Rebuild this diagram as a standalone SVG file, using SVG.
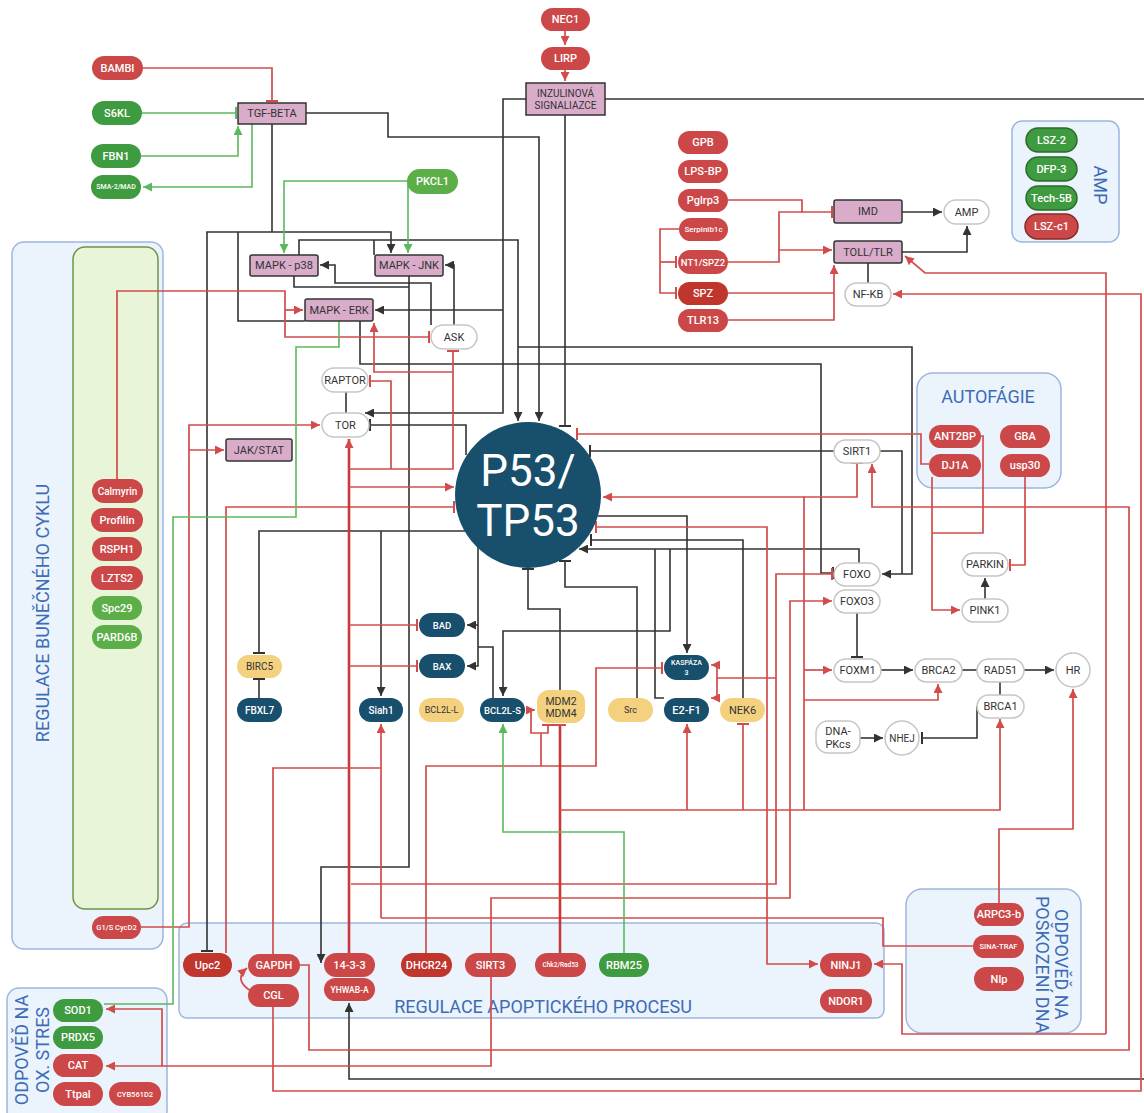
<svg xmlns="http://www.w3.org/2000/svg" width="1144" height="1113" viewBox="0 0 1144 1113">
<style>
.n text{font-family:Roboto,"Liberation Sans",sans-serif;font-size:11px;font-weight:500;fill:#fff;text-anchor:middle;dominant-baseline:central}
.r rect{fill:#cc4848}
.rd rect{fill:#c0352c}
.g rect{fill:#3f9b3f}
.gl rect{fill:#5cae48}
.b rect{fill:#174f6d}
.y rect{fill:#f3d17f}
.y text{fill:#333;font-weight:400}
.p rect{fill:#d9adca;stroke:#333;stroke-width:1.5}
.p text{fill:#333;font-weight:400}
.w rect,.w circle{fill:#fff;stroke:#c6c6c6;stroke-width:1.5}
.w text{fill:#333;font-weight:400}
.box{fill:#ebf3fc;stroke:#9db6de;stroke-width:1.5}
.lbl{font-family:Roboto,"Liberation Sans",sans-serif;font-size:18px;fill:#3d6cb6;text-anchor:middle;dominant-baseline:central}
.k{stroke:#333;stroke-width:1.6;fill:none}
.rl{stroke:#d24c4c;stroke-width:1.7;fill:none}
.rt{stroke:#c9383a;stroke-width:2.6;fill:none}
.gn{stroke:#5cb85c;stroke-width:1.6;fill:none}
</style>
<defs>
<marker id="ak" viewBox="0 0 10 10" refX="10" refY="5" markerWidth="9" markerHeight="9" markerUnits="userSpaceOnUse" orient="auto"><path d="M0,0L10,5L0,10z" fill="#333"/></marker>
<marker id="ar" viewBox="0 0 10 10" refX="10" refY="5" markerWidth="9" markerHeight="9" markerUnits="userSpaceOnUse" orient="auto"><path d="M0,0L10,5L0,10z" fill="#d24c4c"/></marker>
<marker id="ag" viewBox="0 0 10 10" refX="10" refY="5" markerWidth="9" markerHeight="9" markerUnits="userSpaceOnUse" orient="auto"><path d="M0,0L10,5L0,10z" fill="#5cb85c"/></marker>
<marker id="bk" viewBox="0 0 4 12" refX="2" refY="6" markerWidth="4" markerHeight="12" markerUnits="userSpaceOnUse" orient="auto"><path d="M2,0V12" stroke="#333" stroke-width="2"/></marker>
<marker id="br" viewBox="0 0 4 12" refX="2" refY="6" markerWidth="4" markerHeight="12" markerUnits="userSpaceOnUse" orient="auto"><path d="M2,0V12" stroke="#d24c4c" stroke-width="2"/></marker>
<marker id="bg" viewBox="0 0 4 12" refX="2" refY="6" markerWidth="4" markerHeight="12" markerUnits="userSpaceOnUse" orient="auto"><path d="M2,0V12" stroke="#5cb85c" stroke-width="2"/></marker>
</defs>
<rect width="1144" height="1113" fill="#fff"/>

<g id="groups">
<rect class="box" x="12" y="242" width="151" height="707" rx="12"/>
<rect x="73" y="247" width="85" height="662" rx="12" fill="#e9f5d8" stroke="#6f9444" stroke-width="1.5"/>
<text class="lbl" transform="translate(42,613) rotate(-90)">REGULACE BUNĚČNÉHO CYKLU</text>
<rect class="box" x="179" y="923" width="705" height="95" rx="8"/>
<text class="lbl" x="543" y="1006">REGULACE APOPTICKÉHO PROCESU</text>
<rect class="box" x="906" y="889" width="175" height="144" rx="16" stroke="#7e9ed3" stroke-width="3"/>
<text class="lbl" style="text-anchor:start" transform="translate(1061,909) rotate(90)">ODPOVĚĎ NA</text>
<text class="lbl" style="text-anchor:start" transform="translate(1042,896) rotate(90)">POŠKOZENÍ DNA</text>
<rect class="box" x="7" y="988" width="160" height="135" rx="12"/>
<text class="lbl" transform="translate(21,1050) rotate(-90)">ODPOVĚĎ NA</text>
<text class="lbl" transform="translate(42,1050) rotate(-90)">OX. STRES</text>
<rect class="box" x="1012" y="121" width="107" height="121" rx="10"/>
<text class="lbl" transform="translate(1100,185) rotate(90)">AMP</text>
<rect class="box" x="917" y="373" width="144" height="115" rx="16"/>
<text class="lbl" x="988" y="396">AUTOFÁGIE</text>
</g>

<g id="connectors">
<!-- black -->
<path class="k" d="M272,124V232"/>
<path class="k" d="M207,951V232H391V253" marker-start="url(#bk)" marker-end="url(#ak)"/>
<path class="k" d="M238,232V321H305"/>
<path class="k" d="M299,255V240H518V421" marker-end="url(#ak)"/>
<path class="k" d="M374,240V255"/>
<path class="k" d="M306,113H388V137H539V421" marker-end="url(#ak)"/>
<path class="k" d="M526,99H503V413H365" marker-end="url(#ak)"/>
<path class="k" d="M503,310H375" marker-end="url(#ak)"/>
<path class="k" d="M565,115V426" marker-end="url(#bk)"/>
<path class="k" d="M605,99H1144"/>
<path class="k" d="M431,325V283H335V265H320" marker-end="url(#ak)"/>
<path class="k" d="M454,325V265H445" marker-end="url(#ak)"/>
<path class="k" d="M294,276V287H409"/>
<path class="k" d="M409,276V867H321V963" marker-end="url(#ak)"/>
<path class="k" d="M360,321V364H821V573H833" marker-end="url(#bk)"/>
<path class="k" d="M518,347H912V574H882" marker-end="url(#ak)"/>
<path class="k" d="M880,451H902V574"/>
<path class="k" d="M370,425H466V455" marker-start="url(#bk)"/>
<path class="k" d="M346,392V413"/>
<path class="k" d="M465,531H259V653" marker-end="url(#bk)"/>
<path class="k" d="M381,531V696" marker-end="url(#ak)"/>
<path class="k" d="M259,679V698" marker-start="url(#bk)"/>
<path class="k" d="M478,547V666H467" marker-end="url(#ak)"/>
<path class="k" d="M478,625H467" marker-end="url(#ak)"/>
<path class="k" d="M478,647H493V698"/>
<path class="k" d="M528,569V609H560V690" marker-start="url(#bk)"/>
<path class="k" d="M565,561V587H637V698" marker-start="url(#bk)"/>
<path class="k" d="M859,563V549H579" marker-end="url(#ak)"/>
<path class="k" d="M655,549V698H664"/>
<path class="k" d="M670,549V631H503V696" marker-end="url(#ak)"/>
<path class="k" d="M743,698V540H591" marker-end="url(#bk)"/>
<path class="k" d="M598,516H687V653" marker-end="url(#ak)"/>
<path class="k" d="M834,451H590" marker-end="url(#bk)"/>
<path class="k" d="M857,612V657" marker-end="url(#bk)"/>
<path class="k" d="M881,670H913" marker-end="url(#ak)"/>
<path class="k" d="M962,670H977"/>
<path class="k" d="M1024,670H1054" marker-end="url(#ak)"/>
<path class="k" d="M1000,682V695"/>
<path class="k" d="M860,738H883" marker-end="url(#ak)"/>
<path class="k" d="M977,706V738H922" marker-end="url(#bk)"/>
<path class="k" d="M985,599V578" marker-end="url(#ak)"/>
<path class="k" d="M902,212H942" marker-end="url(#ak)"/>
<path class="k" d="M902,252H967V226" marker-end="url(#ak)"/>
<path class="k" d="M868,263V283"/>
<path class="k" d="M1144,1079H349V1003" marker-end="url(#ak)"/>
<!-- red -->
<path class="rl" d="M565,31V45" marker-end="url(#ar)"/>
<path class="rl" d="M565,70V81" marker-end="url(#ar)"/>
<path class="rl" d="M143,68H272V101" marker-end="url(#br)"/>
<path class="rl" d="M117,479V291H285V337H429" marker-end="url(#br)"/>
<path class="rl" d="M285,310H303" marker-end="url(#ar)"/>
<path class="rl" d="M141,927H189V425H320" marker-end="url(#ar)"/>
<path class="rl" d="M189,450H224" marker-end="url(#ar)"/>
<path class="rl" d="M226,953V507H454" marker-end="url(#br)"/>
<path class="rt" d="M349,953V439" marker-end="url(#ar)"/>
<path class="rl" d="M349,469H453V351" marker-end="url(#br)"/>
<path class="rl" d="M391,469V381H370" marker-end="url(#br)"/>
<path class="rl" d="M453,372H374V323" marker-end="url(#ar)"/>
<path class="rl" d="M349,487H454" marker-end="url(#ar)"/>
<path class="rl" d="M349,625H417" marker-end="url(#br)"/>
<path class="rl" d="M349,666H417" marker-end="url(#br)"/>
<path class="rl" d="M273,954V768H381"/>
<path class="rl" d="M381,918V724" marker-end="url(#ar)"/>
<path class="rl" d="M973,946H883V918H381"/>
<path class="rl" d="M300,965H309V1050H1129V507H872V464" marker-end="url(#ar)"/>
<path class="rl" d="M273,1007V1091H1141V294H893" marker-end="url(#ar)"/>
<path class="rl" d="M251,991Q233,980 247,968" marker-end="url(#ar)"/>
<path class="rl" d="M351,884H776V574H832" marker-end="url(#br)"/>
<path class="rl" d="M776,678H717V665H711" marker-end="url(#ar)"/>
<path class="rl" d="M717,678V698H711" marker-end="url(#ar)"/>
<path class="rl" d="M426,953V766H596V668H662" marker-end="url(#br)"/>
<path class="rl" d="M541,766V733"/>
<path class="rl" d="M548,725V733H531V710H535" marker-start="url(#br)" marker-end="url(#ar)"/>
<path class="rt" d="M560,953V725" marker-end="url(#br)"/>
<path class="rl" d="M560,810H1000V719" marker-end="url(#ar)"/>
<path class="rl" d="M687,810V724" marker-end="url(#ar)"/>
<path class="rl" d="M743,810V724" marker-end="url(#br)"/>
<path class="rl" d="M804,810V497H603" marker-end="url(#ar)"/>
<path class="rl" d="M804,670H832" marker-end="url(#ar)"/>
<path class="rl" d="M804,700H938V684" marker-end="url(#ar)"/>
<path class="rl" d="M857,463V497H804" marker-start="url(#br)"/>
<path class="rl" d="M491,953V898H790V601H832" marker-end="url(#ar)"/>
<path class="rl" d="M491,977V1066H162V1009H106" marker-end="url(#ar)"/>
<path class="rl" d="M162,1066H106" marker-end="url(#ar)"/>
<path class="rl" d="M596,527H767V964H818" marker-start="url(#br)" marker-end="url(#ar)"/>
<path class="rl" d="M929,464H921V434H577" marker-end="url(#br)"/>
<path class="rl" d="M981,436H983V533H932"/>
<path class="rl" d="M932,477V610H960" marker-end="url(#ar)"/>
<path class="rl" d="M1025,477V565H1010" marker-end="url(#br)"/>
<path class="rl" d="M999,903V829H1073V689" marker-end="url(#ar)"/>
<path class="rl" d="M1106,1034H902V964H874" marker-end="url(#ar)"/>
<path class="rl" d="M1106,1034V273H925L905,256" marker-end="url(#ar)"/>
<path class="rl" d="M728,200H802V212H832" marker-end="url(#br)"/>
<path class="rl" d="M728,262H779V212H802"/>
<path class="rl" d="M779,250H832" marker-end="url(#ar)"/>
<path class="rl" d="M680,229H660V293H676" marker-end="url(#br)"/>
<path class="rl" d="M660,262H676" marker-end="url(#br)"/>
<path class="rl" d="M728,293H834"/>
<path class="rl" d="M728,320H834V265" marker-end="url(#ar)"/>
<!-- green -->
<path class="gn" d="M142,113H236" marker-end="url(#bg)"/>
<path class="gn" d="M141,156H238V126" marker-end="url(#ag)"/>
<path class="gn" d="M252,124V187H143" marker-end="url(#ag)"/>
<path class="gn" d="M407,181H284V253" marker-end="url(#ag)"/>
<path class="gn" d="M408,181V253" marker-end="url(#ag)"/>
<path class="gn" d="M339,321V347H296V517H173V1004H104"/>
<path class="gn" d="M624,953V832H503V724" marker-end="url(#ag)"/>
</g>

<g id="nodes">
<g id="bambi" class="n r"><rect x="92" y="56" width="51" height="24" rx="12"/><text x="117.5" y="68">BAMBI</text></g>
<g id="s6kl" class="n g"><rect x="92" y="101" width="50" height="24" rx="12"/><text x="117" y="113">S6KL</text></g>
<g id="fbn1" class="n g"><rect x="91" y="144" width="50" height="24" rx="12"/><text x="116" y="156">FBN1</text></g>
<g id="sma" class="n g"><rect x="91" y="175" width="50" height="24" rx="12"/><text x="116" y="187" style="font-size:7px">SMA-2/MAD</text></g>
<g id="tgf" class="n p"><rect x="238" y="103" width="68" height="21"/><text x="272" y="113.5">TGF-BETA</text></g>
<g id="pkcl1" class="n gl"><rect x="407" y="169" width="51" height="25" rx="12.5"/><text x="432.5" y="181.5">PKCL1</text></g>
<g id="p38" class="n p"><rect x="250" y="255" width="68" height="21" rx="2"/><text x="284" y="265.5">MAPK - p38</text></g>
<g id="jnk" class="n p"><rect x="375" y="255" width="68" height="21" rx="2"/><text x="409" y="265.5">MAPK - JNK</text></g>
<g id="erk" class="n p"><rect x="305" y="299" width="68" height="22" rx="2"/><text x="339" y="310">MAPK - ERK</text></g>
<g id="ask" class="n w"><rect x="431" y="325" width="46" height="24" rx="12"/><text x="454" y="337">ASK</text></g>
<g id="raptor" class="n w"><rect x="322" y="368" width="46" height="24" rx="12"/><text x="345" y="380">RAPTOR</text></g>
<g id="tor" class="n w"><rect x="322" y="413" width="47" height="24" rx="12"/><text x="345.5" y="425">TOR</text></g>
<g id="jakstat" class="n p"><rect x="226" y="439" width="66" height="22" rx="2"/><text x="259" y="450">JAK/STAT</text></g>
<g id="nec1" class="n r"><rect x="541" y="8" width="49" height="23" rx="11.5"/><text x="565.5" y="19.5">NEC1</text></g>
<g id="lirp" class="n r"><rect x="541" y="47" width="49" height="23" rx="11.5"/><text x="565.5" y="58.5">LIRP</text></g>
<g id="inzulin" class="n p"><rect x="526" y="83" width="79" height="32"/><text x="565.5" y="93" style="font-size:10px">INZULINOVÁ</text><text x="565.5" y="105" style="font-size:10px">SIGNALIAZCE</text></g>

<g id="gpb" class="n r"><rect x="678" y="131" width="50" height="23" rx="11.5"/><text x="703" y="142.5">GPB</text></g>
<g id="lpsbp" class="n r"><rect x="678" y="160" width="50" height="23" rx="11.5"/><text x="703" y="171.5">LPS-BP</text></g>
<g id="pglrp3" class="n r"><rect x="678" y="189" width="50" height="23" rx="11.5"/><text x="703" y="200.5">Pglrp3</text></g>
<g id="serpinib1c" class="n r"><rect x="679" y="218" width="49" height="23" rx="11.5"/><text x="703.5" y="229.5" style="font-size:8px">Serpinib1c</text></g>
<g id="nt1spz2" class="n r"><rect x="678" y="250" width="50" height="24" rx="12"/><text x="703" y="262" style="font-size:9.5px">NT1/SPZ2</text></g>
<g id="spz" class="n rd"><rect x="678" y="282" width="50" height="23" rx="11.5"/><text x="703" y="293.5">SPZ</text></g>
<g id="tlr13" class="n r"><rect x="678" y="309" width="50" height="23" rx="11.5"/><text x="703" y="320.5">TLR13</text></g>
<g id="imd" class="n p"><rect x="834" y="200" width="68" height="23" rx="2"/><text x="868" y="211.5">IMD</text></g>
<g id="toll" class="n p"><rect x="834" y="241" width="68" height="22" rx="2"/><text x="868" y="252">TOLL/TLR</text></g>
<g id="amp" class="n w"><rect x="944" y="200" width="45" height="24" rx="12"/><text x="966.5" y="212">AMP</text></g>
<g id="nfkb" class="n w"><rect x="845" y="283" width="46" height="23" rx="11.5"/><text x="868" y="294.5">NF-KB</text></g>

<g id="lsz2" class="n g"><rect x="1026" y="128" width="51" height="24" rx="12" stroke="#2b6b2b" stroke-width="1.5"/><text x="1051.5" y="140">LSZ-2</text></g>
<g id="dfp3" class="n g"><rect x="1026" y="157" width="51" height="24" rx="12" stroke="#2b6b2b" stroke-width="1.5"/><text x="1051.5" y="169">DFP-3</text></g>
<g id="tech5b" class="n g"><rect x="1026" y="186" width="51" height="24" rx="12" stroke="#2b6b2b" stroke-width="1.5"/><text x="1051.5" y="198">Tech-5B</text></g>
<g id="lszc1" class="n r"><rect x="1025" y="214" width="53" height="25" rx="12.5" stroke="#8a2828" stroke-width="1.5"/><text x="1051.5" y="226.5">LSZ-c1</text></g>

<g id="ant2bp" class="n r"><rect x="929" y="425" width="52" height="23" rx="11.5"/><text x="955" y="436.5">ANT2BP</text></g>
<g id="dj1a" class="n r"><rect x="929" y="454" width="52" height="23" rx="11.5"/><text x="955" y="465.5">DJ1A</text></g>
<g id="gba" class="n r"><rect x="1000" y="425" width="50" height="23" rx="11.5"/><text x="1025" y="436.5">GBA</text></g>
<g id="usp30" class="n r"><rect x="1000" y="454" width="50" height="23" rx="11.5"/><text x="1025" y="465.5">usp30</text></g>

<g id="sirt1" class="n w"><rect x="834" y="440" width="46" height="23" rx="11.5"/><text x="857" y="451.5">SIRT1</text></g>
<g id="foxo" class="n w"><rect x="834" y="563" width="46" height="23" rx="11.5"/><text x="857" y="574.5">FOXO</text></g>
<g id="foxo3" class="n w"><rect x="834" y="590" width="46" height="23" rx="11.5"/><text x="857" y="601.5">FOXO3</text></g>
<g id="foxm1" class="n w"><rect x="834" y="659" width="47" height="23" rx="11.5"/><text x="857.5" y="670.5">FOXM1</text></g>
<g id="brca2" class="n w"><rect x="915" y="659" width="47" height="23" rx="11.5"/><text x="938.5" y="670.5">BRCA2</text></g>
<g id="rad51" class="n w"><rect x="977" y="659" width="47" height="23" rx="11.5"/><text x="1000.5" y="670.5">RAD51</text></g>
<g id="hr" class="n w"><circle cx="1073" cy="670" r="17"/><text x="1073" y="670">HR</text></g>
<g id="brca1" class="n w"><rect x="977" y="695" width="47" height="23" rx="11.5"/><text x="1000.5" y="706.5">BRCA1</text></g>
<g id="dnapkcs" class="n w"><rect x="816" y="721" width="44" height="32" rx="12"/><text x="838" y="731">DNA-</text><text x="838" y="744">PKcs</text></g>
<g id="nhej" class="n w"><circle cx="902" cy="738" r="17"/><text x="902" y="738" style="font-size:10px">NHEJ</text></g>
<g id="parkin" class="n w"><rect x="962" y="553" width="46" height="23" rx="11.5"/><text x="985" y="564.5">PARKIN</text></g>
<g id="pink1" class="n w"><rect x="962" y="599" width="46" height="23" rx="11.5"/><text x="985" y="610.5">PINK1</text></g>

<g id="p53"><circle cx="528" cy="495" r="73" fill="#174f6d"/><text x="528" y="486" font-family="Roboto,'Liberation Sans',sans-serif" font-size="44" fill="#fff" text-anchor="middle">P53/</text><text x="528" y="536" font-family="Roboto,'Liberation Sans',sans-serif" font-size="44" fill="#fff" text-anchor="middle">TP53</text></g>

<g id="bad" class="n b"><rect x="419" y="613" width="46" height="24" rx="12"/><text x="442" y="625" style="font-size:9.5px">BAD</text></g>
<g id="bax" class="n b"><rect x="419" y="654" width="46" height="24" rx="12"/><text x="442" y="666" style="font-size:9.5px">BAX</text></g>
<g id="birc5" class="n y"><rect x="237" y="655" width="45" height="23" rx="11.5"/><text x="259.5" y="666.5" style="font-size:10px">BIRC5</text></g>
<g id="fbxl7" class="n b"><rect x="237" y="698" width="45" height="24" rx="12"/><text x="259.5" y="710" style="font-size:10px">FBXL7</text></g>
<g id="siah1" class="n b"><rect x="359" y="698" width="44" height="24" rx="12"/><text x="381" y="710" style="font-size:10px">Siah1</text></g>
<g id="bcl2ll" class="n y"><rect x="419" y="698" width="45" height="24" rx="12"/><text x="441.5" y="710" style="font-size:9px">BCL2L-L</text></g>
<g id="bcl2ls" class="n b"><rect x="480" y="698" width="45" height="24" rx="12"/><text x="502.5" y="710" style="font-size:9.5px">BCL2L-S</text></g>
<g id="mdm" class="n y"><rect x="537" y="690" width="48" height="33" rx="12"/><text x="561" y="701" style="font-size:10.5px">MDM2</text><text x="561" y="713" style="font-size:10.5px">MDM4</text></g>
<g id="src" class="n y"><rect x="608" y="698" width="45" height="24" rx="12"/><text x="630.5" y="710" style="font-size:9px">Src</text></g>
<g id="kaspaza3" class="n b"><rect x="664" y="655" width="45" height="25" rx="12.5"/><text x="686.5" y="663" style="font-size:7px">KASPÁZA</text><text x="686.5" y="673" style="font-size:7px">3</text></g>
<g id="e2f1" class="n b"><rect x="664" y="698" width="45" height="24" rx="12"/><text x="686.5" y="710">E2-F1</text></g>
<g id="nek6" class="n y"><rect x="720" y="698" width="45" height="24" rx="12"/><text x="742.5" y="710">NEK6</text></g>

<g id="calmyrin" class="n r"><rect x="92" y="479" width="51" height="24" rx="12"/><text x="117.5" y="491" style="font-size:10px">Calmyrin</text></g>
<g id="profilin" class="n r"><rect x="91" y="508" width="52" height="24" rx="12"/><text x="117" y="520">Profilin</text></g>
<g id="rsph1" class="n r"><rect x="92" y="537" width="50" height="24" rx="12"/><text x="117" y="549">RSPH1</text></g>
<g id="lzts2" class="n r"><rect x="91" y="566" width="52" height="24" rx="12"/><text x="117" y="578">LZTS2</text></g>
<g id="spc29" class="n gl"><rect x="92" y="596" width="50" height="24" rx="12"/><text x="117" y="608">Spc29</text></g>
<g id="pard6b" class="n gl"><rect x="92" y="625" width="50" height="24" rx="12"/><text x="117" y="637">PARD6B</text></g>
<g id="g1scycd2" class="n r"><rect x="92" y="916" width="49" height="23" rx="11.5"/><text x="116.5" y="927.5" style="font-size:7.5px">G1/S CycD2</text></g>

<g id="upc2" class="n rd"><rect x="183" y="953" width="49" height="24" rx="12"/><text x="207.5" y="965">Upc2</text></g>
<g id="gapdh" class="n r"><rect x="248" y="954" width="52" height="23" rx="11.5"/><text x="274" y="965.5">GAPDH</text></g>
<g id="cgl" class="n r"><rect x="248" y="984" width="51" height="23" rx="11.5"/><text x="273.5" y="995.5">CGL</text></g>
<g id="p1433" class="n r"><rect x="324" y="953" width="51" height="24" rx="12"/><text x="349.5" y="965">14-3-3</text></g>
<g id="yhwaba" class="n r"><rect x="324" y="978" width="51" height="23" rx="11.5"/><text x="349.5" y="989.5" style="font-size:8.5px">YHWAB-A</text></g>
<g id="dhcr24" class="n rd"><rect x="401" y="953" width="51" height="24" rx="12"/><text x="426.5" y="965">DHCR24</text></g>
<g id="sirt3" class="n r"><rect x="465" y="953" width="51" height="24" rx="12"/><text x="490.5" y="965">SIRT3</text></g>
<g id="chk2" class="n r"><rect x="535" y="953" width="51" height="24" rx="12"/><text x="560.5" y="965" style="font-size:6.5px">Chk2/Rad53</text></g>
<g id="rbm25" class="n g"><rect x="599" y="953" width="50" height="24" rx="12"/><text x="624" y="965">RBM25</text></g>
<g id="ninj1" class="n r"><rect x="820" y="953" width="52" height="24" rx="12"/><text x="846" y="965">NINJ1</text></g>
<g id="ndor1" class="n r"><rect x="820" y="989" width="52" height="24" rx="12"/><text x="846" y="1001">NDOR1</text></g>

<g id="arpc3b" class="n r"><rect x="974" y="903" width="50" height="23" rx="11.5"/><text x="999" y="914.5">ARPC3-b</text></g>
<g id="sinatraf" class="n r"><rect x="973" y="935" width="51" height="23" rx="11.5"/><text x="998.5" y="946.5" style="font-size:7.5px">SINA-TRAF</text></g>
<g id="nlp" class="n r"><rect x="974" y="967" width="50" height="24" rx="12"/><text x="999" y="979">Nlp</text></g>

<g id="sod1" class="n g"><rect x="53" y="999" width="50" height="23" rx="11.5"/><text x="78" y="1010.5">SOD1</text></g>
<g id="prdx5" class="n g"><rect x="53" y="1026" width="50" height="23" rx="11.5"/><text x="78" y="1037.5">PRDX5</text></g>
<g id="cat" class="n r"><rect x="53" y="1054" width="50" height="23" rx="11.5"/><text x="78" y="1065.5">CAT</text></g>
<g id="ttpal" class="n r"><rect x="53" y="1082" width="50" height="24" rx="12"/><text x="78" y="1094">Ttpal</text></g>
<g id="cyb561d2" class="n r"><rect x="109" y="1082" width="52" height="24" rx="12"/><text x="135" y="1094" style="font-size:7.5px">CYB561D2</text></g>
</g>
</svg>
